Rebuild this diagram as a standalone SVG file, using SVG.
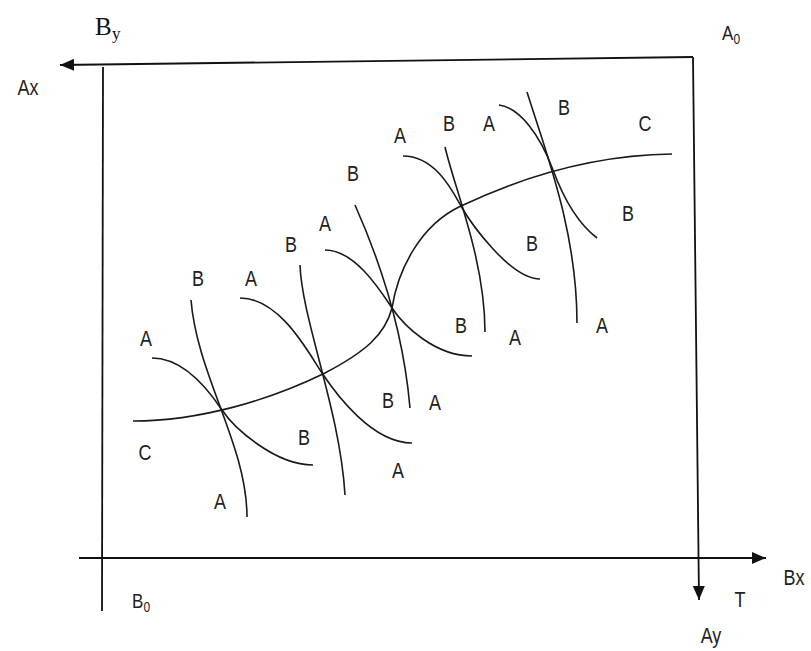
<svg xmlns="http://www.w3.org/2000/svg" width="811" height="651" viewBox="0 0 811 651">
<style>
.ax{fill:none;stroke:#111;stroke-width:1.8}
.cv{fill:none;stroke:#1a1a1a;stroke-width:1.6}
.l{font-family:"Liberation Sans",Arial,sans-serif;font-size:18px;fill:#222;text-anchor:middle}
.s{font-family:"Liberation Sans",Arial,sans-serif;font-size:17px;fill:#222}
.sub{font-family:"Liberation Sans",Arial,sans-serif;font-size:12px;fill:#222}
.serif{font-family:"Liberation Serif","Times New Roman",serif;fill:#111}
</style>
<defs>
<marker id="ah" viewBox="0 0 14 12" markerWidth="14" markerHeight="12" refX="14" refY="6" orient="auto" markerUnits="userSpaceOnUse">
<path d="M0,0 L14,6 L0,12 z" fill="#111"/>
</marker>
</defs>
<g id="axes">
<path class="ax" d="M693,57 L60,65" marker-end="url(#ah)"/>
<path class="ax" d="M693,57 L699,600" marker-end="url(#ah)"/>
<path class="ax" d="M103,67 L102,611"/>
<path class="ax" d="M79,558 L766,558" marker-end="url(#ah)"/>
</g>
<g id="curve-C">
<path class="cv" d="M133,421 C200,421 270,400 325,373 C365,352 385,335 392,308 C398,270 420,225 461,206 C520,178 590,155 672,154"/>
</g>
<g id="set1">
<path class="cv" d="M191,300 C197,375 247,445 247,517"/>
<path class="cv" d="M152,358 C185,358 210,392 222,410 S275,465 313,465"/>
</g>
<g id="set2">
<path class="cv" d="M300,265 C302,320 340,410 345,495"/>
<path class="cv" d="M240,298 C280,298 308,352 322,373 S372,443 412,443"/>
</g>
<g id="set3">
<path class="cv" d="M355,205 Q401.5,309.5 410,408"/>
<path class="cv" d="M325,250 C355,250 380,290 392,308 S435,356 472,356"/>
</g>
<g id="set4">
<path class="cv" d="M445,147 C455,190 485,260 485,332"/>
<path class="cv" d="M403,156 C435,156 452,190 461,206 S510,279 540,279"/>
</g>
<g id="set5">
<path class="cv" d="M527,92 C545,150 577,230 577,323"/>
<path class="cv" d="M499,105 C520,108 540,135 553,170 S580,225 597,238"/>
</g>
<g id="labels">
<text class="l" transform="translate(146 345.5) scale(1 1.2)">A</text>
<text class="l" transform="translate(145 459.5) scale(1 1.2)">C</text>
<text class="l" transform="translate(198 285.5) scale(1 1.2)">B</text>
<text class="l" transform="translate(251 285.5) scale(1 1.2)">A</text>
<text class="l" transform="translate(304 444.5) scale(1 1.2)">B</text>
<text class="l" transform="translate(220 508.5) scale(1 1.2)">A</text>
<text class="l" transform="translate(291 251.5) scale(1 1.2)">B</text>
<text class="l" transform="translate(325 230.5) scale(1 1.2)">A</text>
<text class="l" transform="translate(353 180.5) scale(1 1.2)">B</text>
<text class="l" transform="translate(400 142.5) scale(1 1.2)">A</text>
<text class="l" transform="translate(449 130.5) scale(1 1.2)">B</text>
<text class="l" transform="translate(489 130.5) scale(1 1.2)">A</text>
<text class="l" transform="translate(564 114.5) scale(1 1.2)">B</text>
<text class="l" transform="translate(645 130.5) scale(1 1.2)">C</text>
<text class="l" transform="translate(532 250.5) scale(1 1.2)">B</text>
<text class="l" transform="translate(628 220.5) scale(1 1.2)">B</text>
<text class="l" transform="translate(461 332.5) scale(1 1.2)">B</text>
<text class="l" transform="translate(515 344.5) scale(1 1.2)">A</text>
<text class="l" transform="translate(602 332.5) scale(1 1.2)">A</text>
<text class="l" transform="translate(388 407.5) scale(1 1.2)">B</text>
<text class="l" transform="translate(435 409.5) scale(1 1.2)">A</text>
<text class="l" transform="translate(398 477.5) scale(1 1.2)">A</text>
</g>
<g id="axis-labels">
<text class="l" transform="translate(28 95) scale(1 1.2)">Ax</text>
<text class="l" transform="translate(794 585) scale(1 1.2)">Bx</text>
<text class="l" transform="translate(740 607) scale(1 1.2)">T</text>
<text class="l" transform="translate(711 643) scale(1 1.2)">Ay</text>
<text class="s" transform="translate(722 40) scale(1 1.2)">A</text>
<text class="sub" transform="translate(733.5 44) scale(1 1.2)">0</text>
<text class="s" transform="translate(132 608) scale(1 1.2)">B</text>
<text class="sub" transform="translate(143.5 612) scale(1 1.2)">0</text>
<text class="serif" x="95" y="35" font-size="25">B</text>
<text class="serif" x="112" y="39" font-size="17">y</text>
</g>
</svg>
